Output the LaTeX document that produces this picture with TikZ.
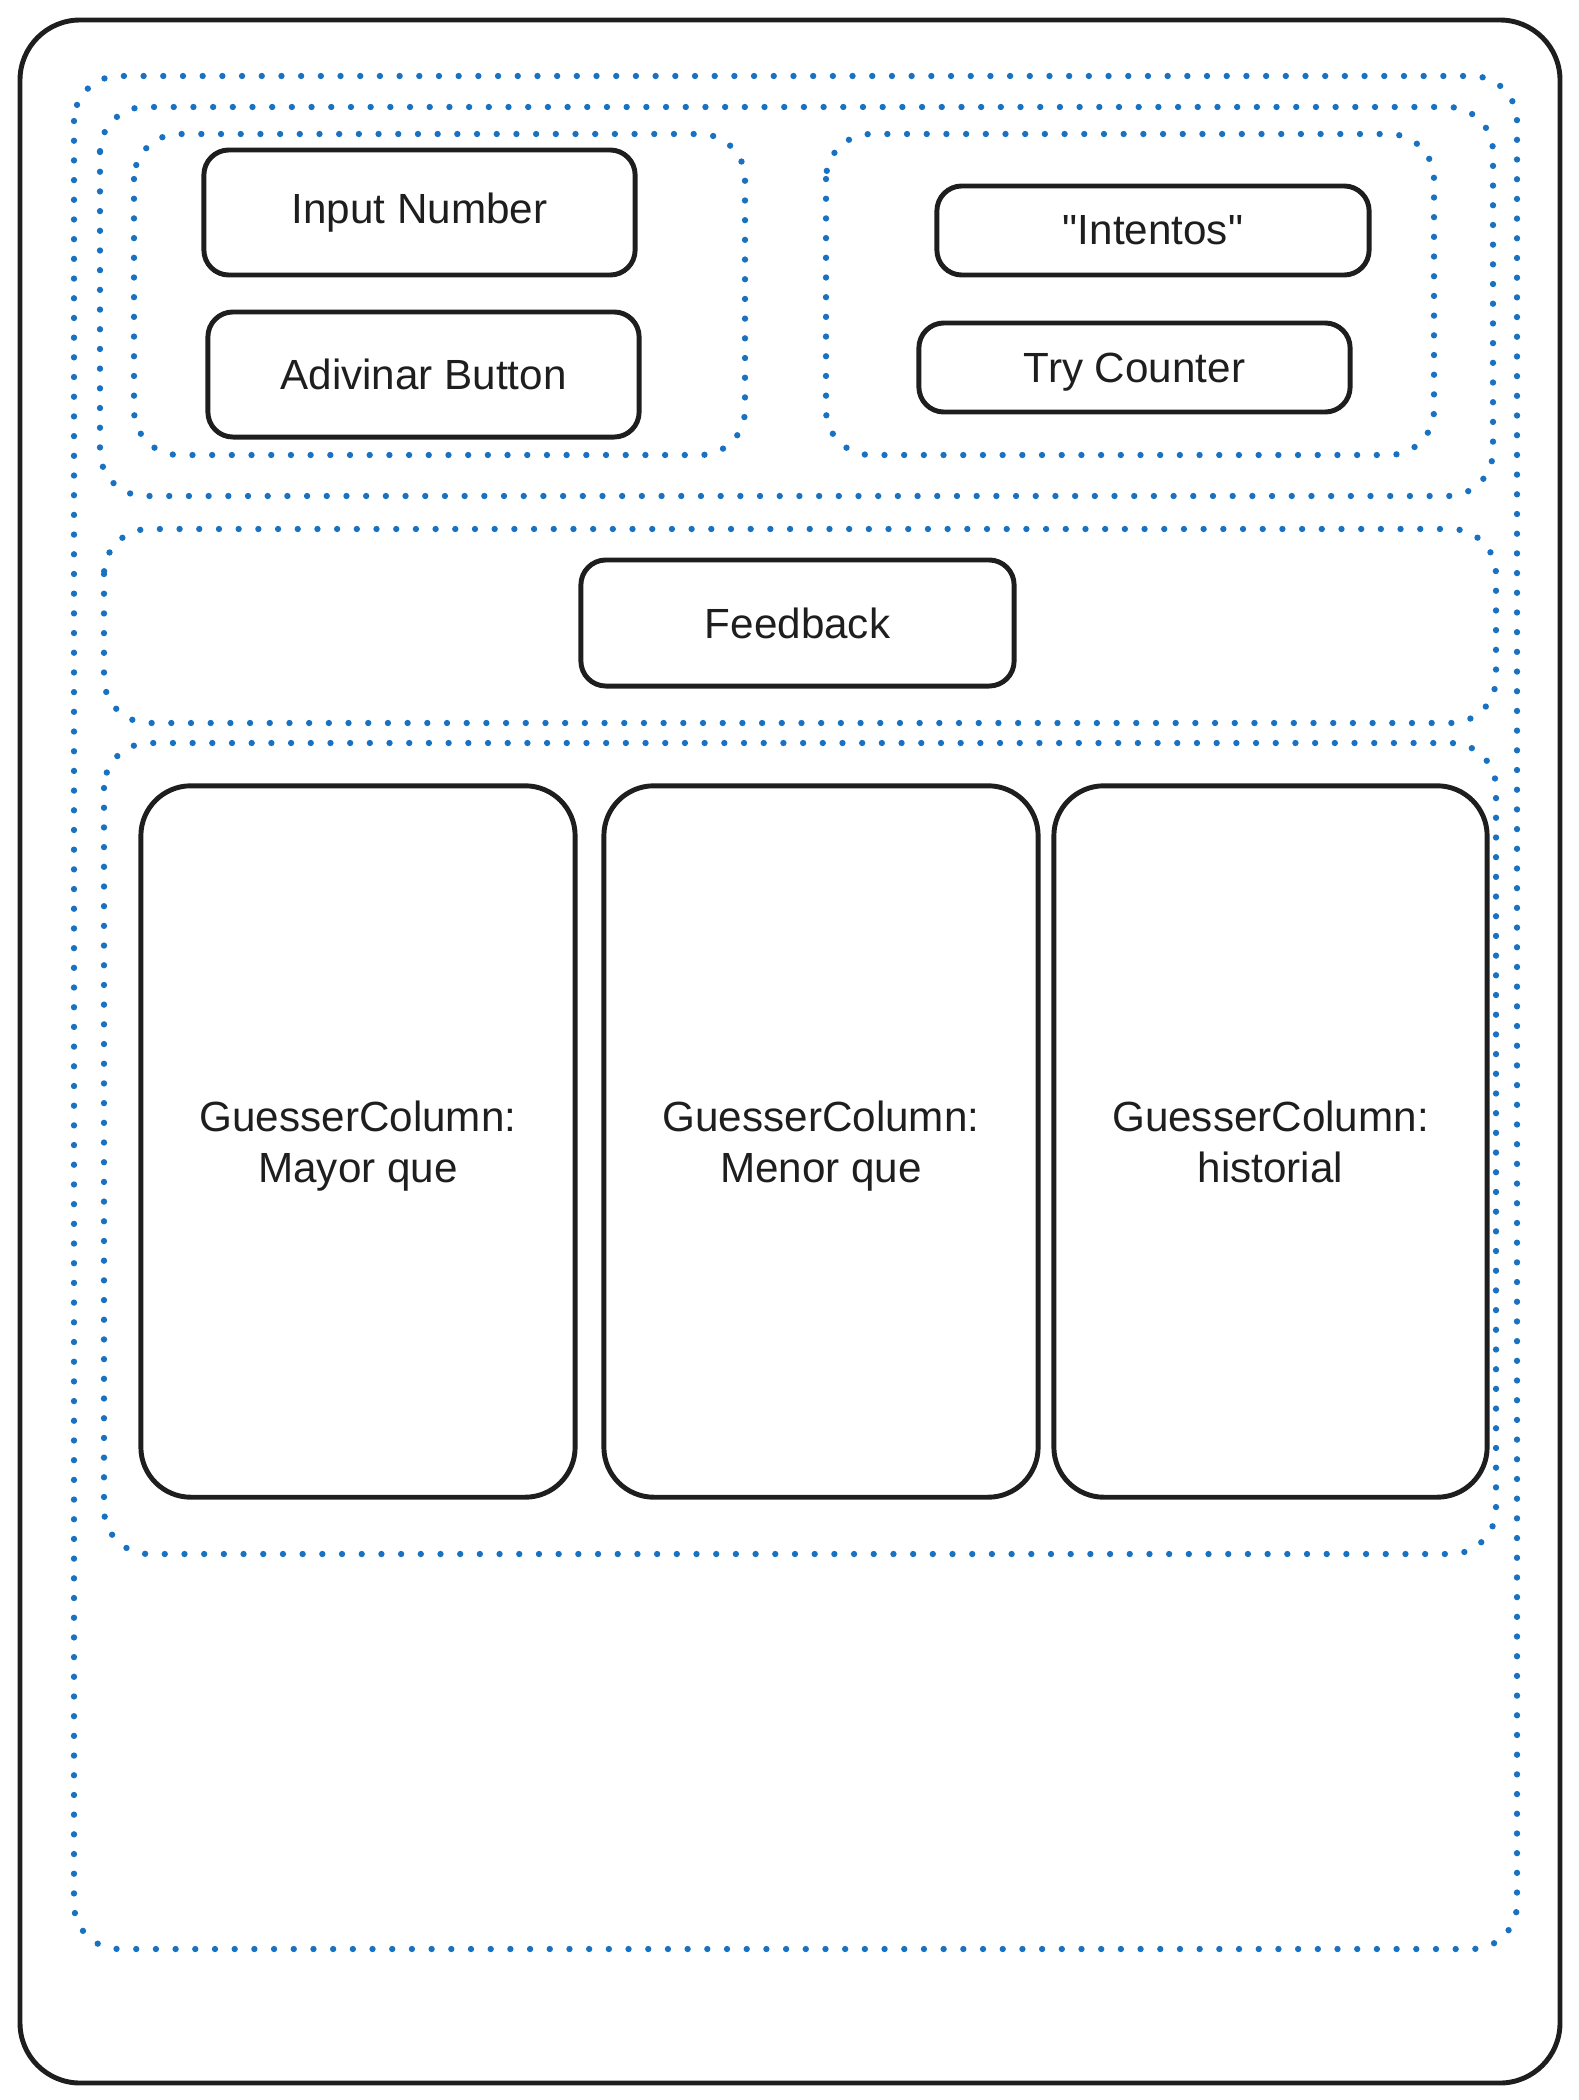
\documentclass[tikz,border=0pt]{standalone}
\usepackage{fontspec}
\setmainfont{Liberation Sans}[Ligatures=TeXOff]
\usepackage{xcolor}
\definecolor{ink}{HTML}{1E1E1E}
\definecolor{groupblue}{HTML}{1971C2}
\tikzset{
  frame/.style={draw=ink, line width=1.4pt, rounded corners=0.6cm},
  group/.style={draw=groupblue, line width=1.8pt, line cap=round,
    dash pattern=on 0pt off 5.6pt, rounded corners=0.45cm},
  box/.style={draw=ink, line width=1.4pt, rounded corners=0.25cm,
    minimum width=4.31cm, text=ink, font=\fontsize{12}{14.5}\selectfont},
  column/.style={draw=ink, line width=1.4pt, rounded corners=0.5cm,
    minimum width=4.34cm, minimum height=7.11cm, align=center,
    text=ink, font=\fontsize{12}{14.5}\selectfont}
}

\begin{document}
\begin{tikzpicture}[x=0.01cm, y=-0.01cm]
  \useasboundingbox (0,0) rectangle (1579,2100);
  % outer frame
  \draw[frame] (20,20) rectangle (1560,2083);
  % dotted groups
  \draw[group] (74,76) rectangle (1517,1949); % page
  \draw[group] (100,107) rectangle (1493,496); % top row
  \draw[group] (134,134) rectangle (745,455); % input side
  \draw[group] (826,134) rectangle (1434,455); % counter side
  \draw[group] (104,529) rectangle (1496,723); % feedback row
  \draw[group] (104,743) rectangle (1496,1554); % columns row

  % input side
  \node[box, minimum height=1.25cm] (input) at (419.5,212.5) {Input Number};
  \node[box, minimum height=1.25cm] (adivinar) at (423.5,374.5) {Adivinar Button};
  % counter side
  \node[box, minimum width=4.32cm, minimum height=0.89cm] (intentos) at (1153,230.5) {"Intentos"};
  \node[box, minimum height=0.89cm, text depth=0pt] (counter) at (1134.5,367.5) {Try Counter};
  % feedback
  \node[box, minimum width=4.33cm, minimum height=1.26cm] (feedback) at (797.5,623) {Feedback};

  % columns
  \node[column] (mayor) at (358,1141.5) {GuesserColumn:\\\smash{Mayor que}};
  \node[column] (menor) at (821,1141.5) {GuesserColumn:\\\smash{Menor que}};
  \node[column, minimum width=4.33cm] (historial) at (1270.5,1141.5) {GuesserColumn:\\historial};
\end{tikzpicture}
\end{document}
